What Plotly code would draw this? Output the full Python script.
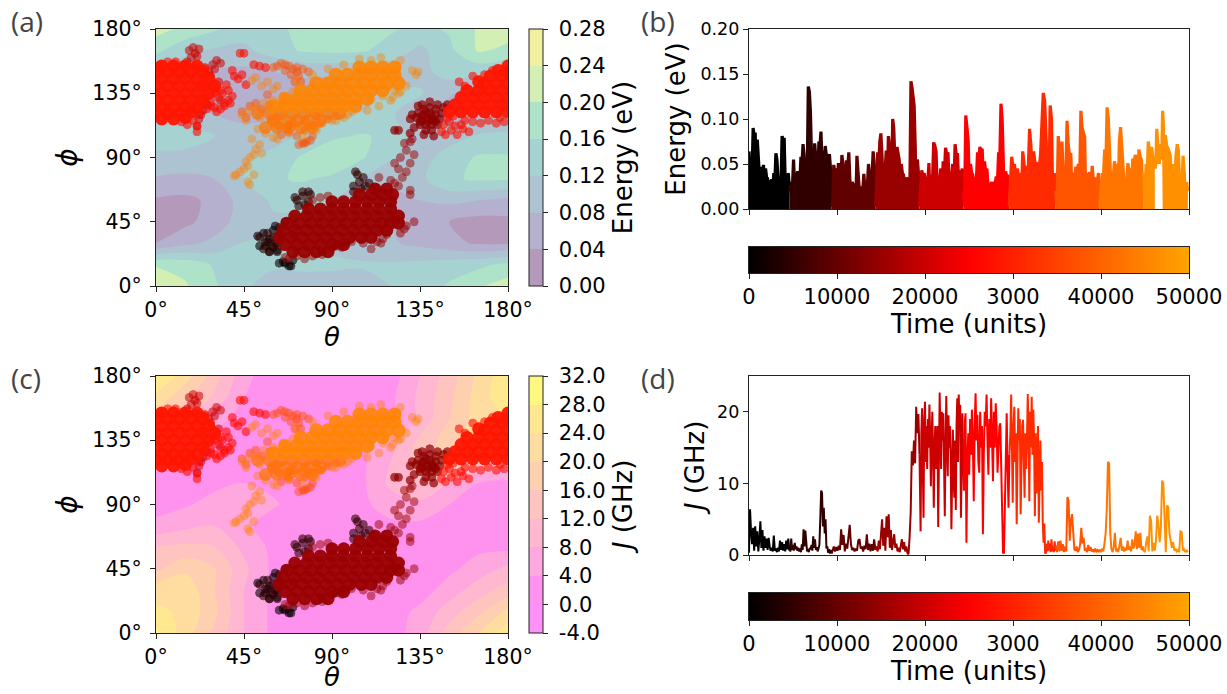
import plotly.graph_objects as go

W, H = 1227, 694

# ---------- contour landscapes (rows phi, columns theta) ----------
grid_theta = [0, 15, 30, 45, 60, 75, 90, 105, 120, 135, 150, 165, 180]
grid_phi = [0, 15, 30, 45, 60, 75, 90, 105, 120, 135, 150, 165, 180]
energy_grid = [
    [.245, .205, .165, .125, .105, .100, .095, .100, .120, .140, .165, .195, .220],
    [.195, .185, .155, .125, .125, .130, .130, .125, .125, .130, .140, .150, .170],
    [.040, .070, .090, .122, .122, .115, .105, .095, .085, .070, .050, .035, .035],
    [.030, .030, .060, .100, .115, .110, .100, .090, .080, .050, .040, .025, .030],
    [.035, .030, .050, .100, .125, .130, .120, .100, .070, .080, .090, .080, .070],
    [.075, .070, .080, .120, .155, .165, .150, .120, .090, .110, .155, .165, .165],
    [.115, .110, .105, .115, .135, .165, .200, .165, .125, .100, .140, .165, .165],
    [.130, .135, .120, .095, .100, .125, .150, .165, .150, .090, .100, .125, .130],
    [.110, .100, .080, .070, .075, .090, .105, .125, .125, .090, .060, .070, .085],
    [.090, .070, .050, .055, .060, .065, .070, .085, .125, .125, .085, .055, .060],
    [.110, .090, .075, .070, .080, .085, .085, .085, .090, .105, .140, .130, .110],
    [.170, .130, .115, .110, .140, .165, .170, .165, .145, .110, .150, .205, .190],
    [.215, .190, .165, .140, .150, .170, .185, .175, .165, .150, .165, .205, .220],
]
j_grid = [
    [29, 22, 15, 8, 3, 2, 1, 1, 2, 6, 14, 20, 27],
    [25, 23, 17, 8, 3, 2, 2, 2, 2, 5, 10, 15, 21],
    [22, 23, 16, 8, 3, 3, 3, 2, 2, 2, 6, 10, 14],
    [15, 19, 16, 9, 3, 3, 3, 3, 2, 2, 3, 6, 9],
    [12, 13, 12, 7, 3, 3, 3, 3, 3, 2.5, 2.5, 3, 3],
    [5, 7, 8, 5, 2, 2, 2, 2, 3, 3, 3, 3, 3],
    [2.5, 3.5, 5.5, 7, 4.5, 2, 1, 3, 6, 7, 4, 3, 2.5],
    [2, 2, 3, 4, 3, 2, 1, 3, 9, 12, 8, 4, 3],
    [6, 3, 2, 2, 2, 2, 2, 3, 8, 14, 18, 13, 11],
    [13, 6, 3, 2, 2, 2, 2, 3, 6, 13, 18, 22, 18],
    [18, 12, 5, 3, 2, 2, 2, 2, 3, 9, 16, 22, 24],
    [23, 17, 11, 4, 2, 2, 1, 2, 3, 9, 15, 22, 27],
    [28, 22, 14, 5, 2, 1.5, 1, 1.5, 2, 8, 14, 21, 27],
]
energy_levels = [0.00, 0.04, 0.08, 0.12, 0.16, 0.20, 0.24, 0.28]
energy_labels = ["\u00a00.00", "\u00a00.04", "\u00a00.08", "\u00a00.12", "\u00a00.16", "\u00a00.20", "\u00a00.24", "\u00a00.28"]
j_levels = [-4, 0, 4, 8, 12, 16, 20, 24, 28, 32]
j_labels = ["\u00a0-4.0", "\u00a00.0", "\u00a04.0", "\u00a08.0", "\u00a012.0", "\u00a016.0", "\u00a020.0", "\u00a024.0", "\u00a028.0", "\u00a032.0"]
viridis_bands = ["#b499bb", "#b4b0cd", "#adc3d2", "#a6d3d1", "#aee2c9", "#d3efb4", "#f0f0a0"]
spring_bands = ["#ff90f8", "#ff92ee", "#ffa8e0", "#ffb8d0", "#ffc4c0", "#ffd0b0", "#ffdca0", "#ffe890", "#fff880"]

# ---------- trajectory clusters (theta, phi in degrees) ----------
black_theta = [52, 55, 58, 56, 60, 53, 58, 62, 64, 60, 57, 62, 63, 66, 68, 65, 69, 70, 61, 66]
black_phi = [35, 37, 33, 28, 27, 28, 24, 24, 36, 39, 31, 30, 16, 16, 14, 17, 14, 18, 42, 45]

maroon_theta = [53, 56, 59, 62, 55, 58, 61, 64, 57, 60, 63, 72, 75, 78, 73, 76, 79, 71, 75, 78,
                101, 104, 107, 103, 106, 101, 105, 109, 112, 102, 96, 92, 85, 70]
maroon_phi = [34, 31, 28, 25, 26, 24, 30, 35, 37, 34, 41, 60, 63, 59, 56, 57, 64, 62, 66, 66,
              70, 73, 70, 78, 76, 66, 68, 72, 69, 80, 30, 28, 24, 36]

core_theta = [70, 76, 82, 88, 66, 72, 78, 84, 90, 96, 63, 69, 75, 81, 87, 93, 99, 105, 110,
              65, 71, 77, 83, 89, 95, 101, 107, 113, 118, 67, 73, 79, 85, 91, 97, 103, 109, 115, 120, 124,
              71, 77, 83, 89, 95, 101, 107, 113, 119, 124, 78, 84, 90, 96, 102, 108, 114, 120,
              90, 96, 102, 108, 114, 120, 104, 110, 116, 121, 112, 118]
core_phi = [24, 24, 24, 24, 29, 29, 29, 29, 29, 29, 34, 34, 34, 34, 34, 34, 34, 34, 34,
            39, 39, 39, 39, 39, 39, 39, 39, 39, 39, 44, 44, 44, 44, 44, 44, 44, 44, 44, 44, 44,
            49, 49, 49, 49, 49, 49, 49, 49, 49, 49, 54, 54, 54, 54, 54, 54, 54, 54,
            59, 59, 59, 59, 59, 59, 64, 64, 64, 64, 68, 68]

fringe_theta = [115, 110, 130, 132, 128, 127, 125, 122, 120, 124, 130, 128, 126, 124, 122, 130, 132,
                128, 125, 127, 130, 131, 118, 122, 116, 113, 68, 72, 76, 80, 85, 90, 95, 100, 106, 66, 80, 84, 88, 114]
fringe_phi = [30, 26, 64, 45, 42, 40, 37, 72, 74, 70, 67, 80, 76, 82, 86, 86, 92, 95, 90, 100,
              101, 103, 36, 46, 33, 31, 19, 21, 19, 21, 22, 27, 27, 31, 30, 20, 60, 62, 63, 76]

deep_theta = [130, 133, 136, 139, 142, 145, 134, 137, 140, 143, 146, 135, 138, 141, 144, 137, 140, 143,
              138, 141, 136, 140, 144, 137, 142, 134, 132, 131, 122, 124, 130, 147, 149, 135, 139, 143, 136, 141, 138, 141]
deep_phi = [117, 118, 116, 117, 116, 117, 121, 120, 121, 120, 121, 113, 113, 113, 113, 124, 125, 124,
            109, 109, 127, 129, 127, 106, 105, 126, 111, 120, 109, 109, 107, 125, 127, 115, 115, 115, 119, 119, 122, 117]

crimson_theta = [16, 18, 20, 22, 17, 21, 19, 27, 29, 31, 33, 28, 30, 25, 24, 32, 30, 33, 21, 22, 23, 24, 26, 25]
crimson_phi = [157, 160, 163, 166, 165, 161, 167, 150, 155, 158, 156, 147, 152, 153, 141, 143, 138, 130,
               112, 117, 120, 123, 127, 132]

red_core_theta = [3, 9, 15, 21, 0, 6, 12, 18, 24, 3, 9, 15, 21, 27, 0, 6, 12, 18, 24, 30, 3, 9, 15, 21, 27, 0, 6, 12, 18, 24,
                  3, 9, 15, 21, 0, 6, 12, 18, 3, 9, 15, 180, 174, 168, 162, 156, 150, 177, 171, 165, 159, 153,
                  180, 174, 168, 162, 156, 177, 171, 165, 159, 180, 174, 168, 177, 171, 165, 180, 175, 180]
red_core_phi = [154, 154, 154, 154, 150, 150, 150, 150, 150, 145, 145, 145, 145, 145, 140, 140, 140, 140, 140, 140, 135, 135, 135, 135, 135,
                130, 130, 130, 130, 130, 125, 125, 125, 125, 121, 121, 121, 122, 117, 117, 118,
                122, 122, 122, 122, 122, 122, 127, 127, 127, 127, 127, 132, 132, 132, 132, 132, 137, 137, 137, 137,
                142, 142, 142, 147, 147, 143, 150, 151, 154]

red_sparse_theta = [2, 6, 10, 14, 20, 25, 30, 32, 33, 35, 28, 26, 31, 37, 38, 36, 40, 42, 39, 44, 46, 43, 45, 50, 53, 56,
                    146, 148, 151, 154, 157, 160, 147, 150, 153, 156, 149, 152, 158, 162, 166, 170, 174, 178, 158, 155, 162, 168, 172, 176,
                    13, 16, 19, 21, 21, 22, 28, 30, 33, 35, 37, 39, 34]
red_sparse_phi = [155, 157, 157, 155, 154, 152, 135, 132, 137, 128, 126, 124, 122, 137, 128, 141, 147, 145, 151, 148, 141, 163, 163, 155, 154, 153,
                  108, 106, 109, 106, 110, 108, 113, 115, 112, 113, 118, 119, 116, 115, 114, 116, 114, 115, 140, 143, 147, 148, 151, 118,
                  115, 113, 116, 112, 108, 120, 129, 125, 124, 126, 130, 133, 135]

redorange_theta = [62, 64, 66, 68, 70, 72, 73, 71, 69, 74, 60, 66, 72, 75, 78, 77, 75, 79, 80, 73, 76,
                   57, 51, 48, 44, 46, 54, 59, 63, 67, 64, 68, 72, 76, 80, 84, 88, 92, 70, 76, 82, 58, 62, 68]
redorange_phi = [154, 156, 155, 154, 152, 150, 147, 143, 148, 143, 153, 151, 153, 152, 150, 101, 100, 102, 105, 99, 100,
                 134, 128, 126, 122, 118, 124, 116, 112, 110, 106, 108, 105, 109, 112, 114, 117, 119, 114, 116, 119, 127, 118, 113]

orange_low_theta = [56, 62, 68, 74, 80, 60, 66, 72, 78, 84, 52, 58, 64, 70, 76, 82, 88, 94]
orange_low_phi = [111, 111, 111, 111, 111, 116, 116, 116, 116, 116, 121, 121, 121, 121, 121, 121, 121, 121]

orange_core_theta = [60, 66, 72, 78, 84, 90, 96, 102, 66, 72, 78, 84, 90, 96, 102, 108,
                     74, 80, 86, 92, 98, 104, 110, 116, 82, 88, 94, 100, 106, 112, 118, 124, 92, 98, 104, 110, 116, 122, 104, 110, 116, 122]
orange_core_phi = [126, 126, 126, 126, 126, 126, 126, 126, 131, 131, 131, 131, 131, 131, 131, 131,
                   137, 137, 137, 137, 137, 137, 137, 137, 142, 142, 142, 142, 142, 142, 142, 142, 148, 148, 148, 148, 148, 148, 153, 153, 153, 153]

orange_sparse_theta = [44, 47, 50, 53, 46, 52, 56, 60, 49, 53, 51, 54, 50, 48, 46, 45, 41, 43, 40, 47, 50, 47, 48,
                       62, 68, 75, 82, 90, 96, 100, 108, 114, 120, 124, 128, 122, 134, 133, 131, 125, 123,
                       115, 110, 104, 96, 88, 80, 72, 62, 98, 92, 85, 78, 49, 51, 54, 57, 60, 110, 116, 125, 121, 70, 65, 60, 55]
orange_sparse_phi = [120, 122, 125, 118, 116, 110, 107, 104, 103, 99, 96, 93, 92, 90, 87, 82, 78, 80, 77, 84, 78, 73, 71,
                     103, 107, 105, 109, 116, 118, 122, 123, 126, 130, 135, 140, 137, 150, 148, 151, 158, 154,
                     160, 158, 159, 155, 152, 148, 144, 140, 120, 116, 114, 111, 144, 146, 140, 143, 138, 131, 133, 136, 132, 136, 133, 130, 128]

# ---------- time series: one list per colour segment ----------
segment_edges = [0, 4700, 9500, 14500, 19500, 24500, 29700, 35000, 40000, 45000, 50000]
segment_colors = ["#000000", "#300000", "#600000", "#990000", "#cc0000",
                  "#ff0000", "#ff2a00", "#ff5500", "#ff7500", "#ff9000"]
energy_edges = [0, 4700, 9500, 14500, 19500, 24500, 29700, 35000, 40000, 45000, 46240, 47190, 50000]
energy_colors = ["#000000", "#300000", "#600000", "#990000", "#cc0000",
                 "#ff0000", "#ff2a00", "#ff5500", "#ff7500", "#ff9000", "#ff9000", "#ff9000"]
energy_filled = [True, True, True, True, True, True, True, True, True, True, False, True]

energy_meV = [
    [64, 30, 50, 40, 90, 80, 85, 30, 77, 60, 47, 20, 47, 40, 49, 25, 45, 35, 34, 5, 32, 28, 33, 22, 40, 30, 62, 55, 35, 18, 32, 30, 81, 75, 79, 30, 33, 4, 40, 25],
    [20, 30, 25, 55, 28, 40, 35, 42, 22, 30, 58, 50, 72, 60, 30, 45, 40, 136, 130, 108, 60, 55, 25, 73, 60, 52, 30, 75, 70, 86, 50, 65, 28, 70, 60, 61, 30, 61, 45, 6],
    [3, 49, 40, 45, 25, 51, 30, 20, 60, 50, 40, 22, 54, 45, 63, 30, 18, 30, 25, 28, 4, 59, 40, 23, 15, 25, 20, 39, 20, 30, 25, 50, 35, 20, 35, 64, 50, 3],
    [25, 63, 50, 75, 84, 60, 30, 50, 45, 65, 28, 81, 70, 60, 30, 100, 90, 38, 22, 69, 60, 55, 30, 50, 40, 38, 30, 25, 35, 30, 28, 25, 142, 135, 125, 115, 70, 3, 55, 40, 3],
    [20, 43, 35, 40, 30, 35, 30, 51, 4, 38, 30, 74, 70, 64, 25, 36, 30, 45, 20, 53, 40, 68, 60, 63, 28, 40, 35, 50, 22, 72, 60, 62, 30, 43, 35, 45, 20],
    [3, 104, 90, 77, 30, 50, 40, 38, 28, 35, 30, 63, 50, 69, 65, 67, 30, 53, 40, 45, 25, 28, 25, 30, 22, 30, 28, 36, 30, 63, 55, 117, 100, 60, 4, 42, 35, 38, 3],
    [25, 58, 45, 50, 30, 45, 35, 40, 4, 64, 50, 30, 48, 40, 89, 70, 28, 64, 50, 52, 30, 45, 60, 95, 129, 120, 70, 40, 3, 115, 100, 3, 40, 20],
    [4, 81, 60, 55, 75, 30, 45, 35, 98, 70, 60, 62, 4, 40, 35, 47, 40, 50, 30, 109, 90, 85, 80, 3, 40, 35, 41, 25, 48, 30, 20, 35, 30, 40, 3],
    [25, 40, 35, 66, 50, 113, 100, 60, 30, 40, 35, 53, 45, 50, 4, 75, 91, 70, 42, 25, 35, 30, 51, 40, 45, 28, 56, 50, 60, 55, 3, 66, 58, 55, 30, 40],
    [3, 50, 40, 75, 65, 30, 69, 60, 55, 45],
    [50, 89, 75, 60, 50, 72, 60, 55, 109, 95],
    [0, 82, 70, 68, 65, 60, 30, 50, 41, 35, 60, 72, 65, 28, 30, 25, 59, 40, 3, 30, 20],
]
coupling_GHz = [
    [0.3, 6.4, 3.2, 1.5, 3.8, 0.6, 4, 1.2, 3.3, 0.5, 2.2, 4.7, 1, 3.5, 0.6, 2.6, 1.0, 2.3, 0.7, 2.4, 1.2, 0.6, 1, 0.5, 2.7, 0.6, 0.9, 0.4, 1, 0.5, 2, 0.7, 1.8, 0.6, 1.5, 0.5, 2, 0.8, 2.3, 0.6],
    [0.6, 2.3, 0.7, 1.4, 0.6, 1.7, 0.8, 1.2, 0.6, 1, 0.5, 0.9, 0.4, 1.5, 0.7, 3.6, 1.2, 3.4, 1.2, 0.5, 0.8, 0.4, 1.0, 0.8, 1.4, 0.6, 2.6, 1, 2.2, 0.7, 1.1, 0.5, 0.9, 1.4, 5, 9, 8.7, 4, 6.6, 3, 5, 0.9, 1.2, 0.3, 0.8, 0.2, 0.7, 0.2],
    [0.8, 1.2, 0.5, 1.1, 0.6, 1.3, 0.7, 3.6, 1.4, 2.8, 0.5, 1.6, 0.9, 3.2, 4.2, 1.5, 0.7, 1, 0.5, 0.9, 0.6, 2, 2.2, 0.9, 1.2, 0.5, 1.3, 0.8, 2.9, 0.7, 1.6, 0.5, 1.5, 0.6, 2.2, 0.7],
    [1.2, 0.5, 2, 0.8, 3.3, 5, 1.3, 3.8, 0.6, 5.4, 2.5, 5.7, 1, 3.5, 0.7, 2, 2.9, 1, 1.6, 0.5, 1, 0.4, 1.6, 2.2, 0.8, 1.8, 0.5, 1.2, 0.3, 0.1, 2.5, 6, 14.5, 12.5, 16, 12.8, 20.7, 17, 19.7, 14],
    [3.3, 17, 20.5, 12, 5.2, 19, 21.4, 13, 18, 12, 19, 15, 21, 17, 9.6, 16, 20, 14, 6.6, 15, 18, 12, 14, 18, 3.9, 14, 22.7, 17, 12, 20, 16, 19.8, 11, 5.4, 15, 22.2, 16, 11, 19.5, 15, 18, 14, 3.6, 13, 17.5, 11, 8, 16, 6.3, 18, 21.9, 13, 22.4, 18, 21, 5.2, 15, 19.8, 14, 9],
    [18, 19.8, 1.7, 13, 17, 11.2, 19, 14, 20.3, 16, 7.5, 18, 22.6, 16, 19.6, 13, 11.5, 20, 15, 18, 2.9, 14, 20, 18, 22.4, 16, 11.2, 19, 15, 21.9, 17, 10.3, 20, 15, 21.2, 18, 11.5, 16, 18, 18.4, 13, 8, 0.3, 0.3, 9, 15, 19.8, 12, 6.6, 14],
    [17, 22.4, 16, 7.3, 18, 20.7, 13, 17, 4.3, 12, 20.5, 16, 19, 5.7, 15, 18, 18.9, 12, 8, 17, 12, 16, 22.5, 18, 7.5, 20, 15, 22.1, 14, 20.3, 16, 5.4, 17, 8.6, 15, 18, 4.5, 14, 16, 9, 13, 4.5, 1.7, 4.4, 0.2, 0.3, 1.6, 0.5, 2, 0.6, 1.6, 0.4, 2.2, 0.5, 1.2, 0.4, 1.9, 0.6, 1.3],
    [0.4, 1.9, 0.5, 2, 0.6, 1.5, 0.4, 1.2, 0.5, 8.1, 7.6, 2, 4.8, 5.7, 3.2, 0.8, 0.6, 1.2, 0.4, 0.7, 1.5, 3.8, 1.6, 2.4, 0.6, 0.8, 0.4, 1.4, 0.6, 1.1, 0.5, 0.8, 0.4, 0.9, 0.5, 0.7, 0.4, 0.8],
    [0.4, 0.9, 0.5, 1.6, 3, 6.4, 13, 12.8, 3, 0.8, 0.4, 1.1, 3.1, 0.5, 0.9, 0.4, 1.3, 2.4, 0.6, 1.2, 0.5, 1, 0.6, 2, 0.7, 1.2, 0.5, 2.2, 0.9, 1.5, 3.3, 0.8, 3, 1, 3.1, 0.7, 1.2, 0.5],
    [0.5, 1.8, 2.6, 0.5, 5.5, 4.8, 0.5, 1.7, 0.6, 2, 5.5, 4.2, 1.8, 4, 10.4, 10, 4.5, 0.4, 6.9, 6.7, 3, 1.7, 1, 1.8, 0.6, 0.9, 0.5, 0.7, 0.4, 3.3, 3.2, 0.6, 0.8, 0.4, 0.7, 0.4],
]

angle_ticks = [0, 45, 90, 135, 180]
angle_labels = ["0°", "45°", "90°", "135°", "180°"]
time_ticks = [0, 10000, 20000, 30000, 40000, 50000]
time_labels = ["0", "10000", "20000", "3000", "40000", "50000"]
energy_ticks = [0, 0.05, 0.10, 0.15, 0.20]
energy_tick_labels = ["0.00", "0.05", "0.10", "0.15", "0.20"]
j_ticks = [0, 10, 20]
time_scale = [[0, "#000000"], [0.5, "#ff0000"], [1, "#ffa500"]]

FONT = "DejaVu Sans"
TICK_MAP = 20.5
TICK_CB = 21
TICK_SERIES = 17.5
TICK_TIME = 21
LABEL = 26


def dx(a, b):
    return [a / W, b / W]


def dy(top, bottom):
    return [1 - bottom / H, 1 - top / H]


def stepped(colors):
    n = len(colors)
    out = []
    for i, c in enumerate(colors):
        out += [[i / n, c], [(i + 1) / n, c]]
    return out


def axis_style(size, **extra):
    return dict(showgrid=False, zeroline=False, showline=True, mirror=True, linecolor="#222", automargin=False,
                linewidth=1.3, ticks="outside", ticklen=5, tickwidth=1.2, tickcolor="#222",
                tickfont=dict(family=FONT, size=size, color="#000"), **extra)


fig = go.Figure()

clusters = [
    (black_theta, black_phi, "#080000", 0.6, 8, 1),
    (maroon_theta, maroon_phi, "#300000", 0.6, 8, 1),
    (core_theta, core_phi, "#990000", 0.95, 13, 0),
    (fringe_theta, fringe_phi, "#990000", 0.5, 8, 1),
    (deep_theta, deep_phi, "#8f0000", 0.7, 8, 1),
    (crimson_theta, crimson_phi, "#cc0000", 0.55, 8, 1),
    (red_sparse_theta, red_sparse_phi, "#ff0d00", 0.6, 8, 1),
    (red_core_theta, red_core_phi, "#ff1500", 0.95, 13, 0),
    (redorange_theta, redorange_phi, "#ff4a00", 0.45, 8, 1),
    (orange_sparse_theta, orange_sparse_phi, "#ff8000", 0.4, 8, 1),
    (orange_low_theta, orange_low_phi, "#ff7400", 0.75, 13, 0),
    (orange_core_theta, orange_core_phi, "#ff8400", 0.88, 14, 0),
]


def map_panel(n, grid, levels, labels, bands, top, bottom, cb_title, theta_offset):
    xa, ya = f"x{n}", f"y{n}"
    fig.add_trace(go.Contour(
        x=grid_theta, y=grid_phi, z=grid, xaxis=xa, yaxis=ya,
        colorscale=stepped(bands), zmin=levels[0], zmax=levels[-1], autocontour=False,
        contours=dict(start=levels[0], end=levels[-1], size=levels[1] - levels[0], coloring="fill", showlines=False),
        line=dict(width=0, smoothing=1.0),
        colorbar=dict(x=529 / W, xanchor="left", y=1 - bottom / H, yanchor="bottom",
                      lenmode="pixels", len=bottom - top, thicknessmode="pixels", thickness=14,
                      xpad=0, ypad=0, outlinewidth=1, outlinecolor="#222",
                      ticks="outside", ticklen=5, tickwidth=1.2, tickcolor="#222",
                      tickvals=levels, ticktext=labels,
                      tickfont=dict(family=FONT, size=TICK_CB, color="#000"),
                      title=dict(text=cb_title, side="right", font=dict(family=FONT, size=LABEL, color="#000"))),
    ))
    for th, ph, col, op, size, lw in clusters:
        fig.add_trace(go.Scatter(x=th, y=ph, mode="markers", xaxis=xa, yaxis=ya, showlegend=False,
                                 marker=dict(color=col, size=size, opacity=op, line=dict(color=col, width=lw))))
    fig.update_layout(**{
        f"xaxis{n}": dict(domain=dx(156, 508), range=[0, 180], tickvals=angle_ticks, ticktext=angle_labels,
                          anchor=ya, **axis_style(TICK_MAP)),
        f"yaxis{n}": dict(domain=dy(top, bottom), range=[0, 180], tickvals=angle_ticks, ticktext=angle_labels,
                          title=dict(text="<i>ϕ</i>", font=dict(family=FONT, size=LABEL + 2, color="#000"), standoff=6),
                          anchor=xa, **axis_style(TICK_MAP, ticklabelstandoff=4)),
    })
    fig.add_annotation(text="<i>θ</i>", x=332 / W, y=1 - (bottom + theta_offset) / H, xref="paper", yref="paper",
                       showarrow=False, xanchor="center", yanchor="middle",
                       font=dict(family=FONT, size=LABEL, color="#000"))


def series_panel(n, data, edges, colors, filled, scale, width, top, bottom, ymax, yticks, ylabels, ytitle, standoff):
    xa, ya = f"x{n}", f"y{n}"
    prev = None
    for i, seg in enumerate(data):
        start, end = edges[i], edges[i + 1]
        step = (end - start) / len(seg)
        t = [start + k * step for k in range(len(seg))]
        y = [v * scale for v in seg]
        if prev is not None:
            t = [prev[0]] + t
            y = [prev[1]] + y
        prev = (t[-1], y[-1])
        fig.add_trace(go.Scatter(x=t, y=y, mode="lines", xaxis=xa, yaxis=ya, showlegend=False,
                                 fill="tozeroy" if filled[i] else "none", fillcolor=colors[i],
                                 line=dict(color=colors[i], width=width)))
    fig.update_layout(**{
        f"xaxis{n}": dict(domain=dx(749, 1189), range=[0, 50000], tickvals=time_ticks, showticklabels=False,
                          anchor=ya, **axis_style(TICK_TIME)),
        f"yaxis{n}": dict(domain=dy(top, bottom), range=[0, ymax], tickvals=yticks, ticktext=ylabels,
                          title=dict(text=ytitle, font=dict(family=FONT, size=LABEL, color="#000"), standoff=standoff),
                          anchor=xa, **axis_style(TICK_SERIES)),
    })


def time_bar(n, top, bottom):
    xa, ya = f"x{n}", f"y{n}"
    fig.add_trace(go.Heatmap(x=list(range(0, 50001, 250)), y=[0, 1],
                             z=[list(range(0, 50001, 250))] * 2, xaxis=xa, yaxis=ya,
                             colorscale=time_scale, zmin=0, zmax=50000, showscale=False, zsmooth="best"))
    fig.update_layout(**{
        f"xaxis{n}": dict(domain=dx(749, 1189), range=[0, 50000], tickvals=time_ticks, ticktext=time_labels,
                          title=dict(text="Time (units)", font=dict(family=FONT, size=LABEL, color="#000"), standoff=4),
                          anchor=ya, **axis_style(TICK_TIME)),
        f"yaxis{n}": dict(domain=dy(top, bottom), range=[0, 1], showticklabels=False, ticks="",
                          showgrid=False, zeroline=False, showline=True, mirror=True, linecolor="#222", linewidth=1.3,
                          anchor=xa, automargin=False),
    })


map_panel(1, energy_grid, energy_levels, energy_labels, viridis_bands, 29, 286, "Energy (eV)", 51)
series_panel(2, energy_meV, energy_edges, energy_colors, energy_filled, 0.001, 3.2, 29, 209, 0.2,
             energy_ticks, energy_tick_labels, "Energy (eV)", 7)
time_bar(3, 247, 273)
map_panel(4, j_grid, j_levels, j_labels, spring_bands, 376, 633, "<i>J</i> (GHz)", 44)
series_panel(5, coupling_GHz, segment_edges, segment_colors, [False] * 10, 1, 2, 376, 555, 25,
             j_ticks, [str(v) for v in j_ticks], "<i>J</i> (GHz)", 4)
time_bar(6, 593, 620)

for text, x, y in [("(a)", 9, 21), ("(b)", 639, 21), ("(c)", 9, 378), ("(d)", 639, 378)]:
    fig.add_annotation(text=text, x=x / W, y=1 - y / H, xref="paper", yref="paper", xanchor="left",
                       yanchor="middle", showarrow=False, font=dict(family="Open Sans", size=28, color="#444"))

fig.update_layout(width=W, height=H, autosize=False, margin=dict(l=0, r=0, t=0, b=0), template="none",
                  paper_bgcolor="white", plot_bgcolor="white", showlegend=False)
fig.write_html("out.html", config=dict(displayModeBar=False),
               post_script="document.body.style.margin='0';document.body.style.overflow='hidden';")
